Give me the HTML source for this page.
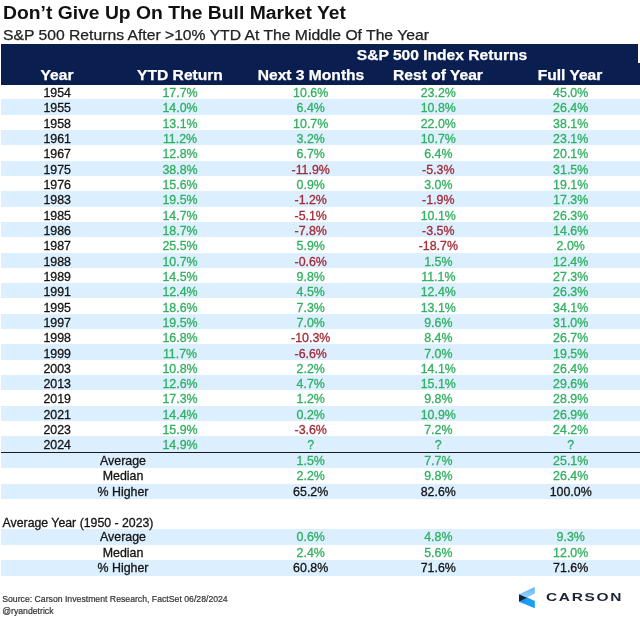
<!DOCTYPE html>
<html><head><meta charset="utf-8"><title>Don't Give Up On The Bull Market Yet</title>
<style>
html,body{margin:0;padding:0;background:#fff;}
body{width:640px;height:619px;position:relative;overflow:hidden;font-family:"Liberation Sans",Arial,sans-serif;color:#1a1a1a;}
.title{position:absolute;left:3px;top:3.4px;font-size:17.5px;font-weight:bold;line-height:20px;white-space:nowrap;color:#111;transform:scaleX(1.103);transform-origin:0 0;}
.sub{-webkit-text-stroke:0.25px #222;position:absolute;left:3px;top:25.7px;font-size:14px;line-height:18px;white-space:nowrap;color:#222;transform:scaleX(1.121);transform-origin:0 0;}
.h1{position:absolute;left:1px;top:44px;width:637px;height:20px;background:#0a1e50;}
.h2{position:absolute;left:1px;top:63px;width:639px;height:21.5px;background:#0a1e50;}
.ht{-webkit-text-stroke:0.25px #fff;position:absolute;width:200px;text-align:center;color:#fff;font-weight:bold;font-size:14.05px;line-height:18px;white-space:nowrap;transform:scaleX(1.11);}
.r{position:absolute;left:1px;width:639px;height:15.42px;font-size:12.4px;line-height:15.32px;}
.bg{position:absolute;left:1px;width:639px;background:#dbefff;}
.c{-webkit-text-stroke:0.3px currentColor;position:absolute;top:2.1px;width:120px;text-align:center;white-space:nowrap;margin-left:-1px;}
.s .c{top:1.2px;}
.k{color:#141414;}
.g{color:#30b060;}
.n{color:#a32a35;}
.line{position:absolute;left:1px;top:451.6px;width:639px;height:1.9px;background:#1a1a1a;}
.src{-webkit-text-stroke:0.2px #333;position:absolute;left:2.2px;font-size:8.7px;line-height:12px;color:#333;white-space:nowrap;}
.logo{position:absolute;left:514px;top:584px;}
.carson{position:absolute;left:546.1px;top:591.3px;font-size:10.3px;line-height:14px;letter-spacing:1.13px;color:#1b2438;white-space:nowrap;transform:scaleX(1.5);transform-origin:0 0;font-weight:bold;}
</style></head><body>
<div class="title">Don’t Give Up On The Bull Market Yet</div>
<div class="sub">S&amp;P 500 Returns After &gt;10% YTD At The Middle Of The Year</div>
<div class="h1"></div><div class="h2"></div>
<div class="ht" style="left:342px;top:46.4px;font-size:14.5px;transform:scaleX(1.075)">S&amp;P 500 Index Returns</div>
<div class="ht" style="left:-43px;top:65.8px">Year</div>
<div class="ht" style="left:80px;top:65.8px">YTD Return</div>
<div class="ht" style="left:210.7px;top:65.8px">Next 3 Months</div>
<div class="ht" style="left:338.2px;top:65.8px">Rest of Year</div>
<div class="ht" style="left:470.4px;top:65.8px">Full Year</div>
<div class="bg" style="top:99.32px;height:15.32px"></div>
<div class="bg" style="top:129.96px;height:15.32px"></div>
<div class="bg" style="top:160.60px;height:15.32px"></div>
<div class="bg" style="top:191.24px;height:15.32px"></div>
<div class="bg" style="top:221.88px;height:15.32px"></div>
<div class="bg" style="top:252.52px;height:15.32px"></div>
<div class="bg" style="top:283.16px;height:15.32px"></div>
<div class="bg" style="top:313.80px;height:15.32px"></div>
<div class="bg" style="top:344.44px;height:15.32px"></div>
<div class="bg" style="top:375.08px;height:15.32px"></div>
<div class="bg" style="top:405.72px;height:15.32px"></div>
<div class="bg" style="top:436.36px;height:15.32px"></div>
<div class="bg" style="top:453.20px;height:15.00px"></div>
<div class="bg" style="top:483.70px;height:15.50px"></div>
<div class="bg" style="top:529.30px;height:15.30px"></div>
<div class="bg" style="top:559.90px;height:15.90px"></div>
<div class="r" style="top:84.00px"><span class="c k" style="left:-2.799999999999997px">1954</span><span class="c g" style="left:120px">17.7%</span><span class="c g" style="left:250.7px">10.6%</span><span class="c g" style="left:378.3px">23.2%</span><span class="c g" style="left:510.70000000000005px">45.0%</span></div>
<div class="r b" style="top:99.32px"><span class="c k" style="left:-2.799999999999997px">1955</span><span class="c g" style="left:120px">14.0%</span><span class="c g" style="left:250.7px">6.4%</span><span class="c g" style="left:378.3px">10.8%</span><span class="c g" style="left:510.70000000000005px">26.4%</span></div>
<div class="r" style="top:114.64px"><span class="c k" style="left:-2.799999999999997px">1958</span><span class="c g" style="left:120px">13.1%</span><span class="c g" style="left:250.7px">10.7%</span><span class="c g" style="left:378.3px">22.0%</span><span class="c g" style="left:510.70000000000005px">38.1%</span></div>
<div class="r b" style="top:129.96px"><span class="c k" style="left:-2.799999999999997px">1961</span><span class="c g" style="left:120px">11.2%</span><span class="c g" style="left:250.7px">3.2%</span><span class="c g" style="left:378.3px">10.7%</span><span class="c g" style="left:510.70000000000005px">23.1%</span></div>
<div class="r" style="top:145.28px"><span class="c k" style="left:-2.799999999999997px">1967</span><span class="c g" style="left:120px">12.8%</span><span class="c g" style="left:250.7px">6.7%</span><span class="c g" style="left:378.3px">6.4%</span><span class="c g" style="left:510.70000000000005px">20.1%</span></div>
<div class="r b" style="top:160.60px"><span class="c k" style="left:-2.799999999999997px">1975</span><span class="c g" style="left:120px">38.8%</span><span class="c n" style="left:250.7px">-11.9%</span><span class="c n" style="left:378.3px">-5.3%</span><span class="c g" style="left:510.70000000000005px">31.5%</span></div>
<div class="r" style="top:175.92px"><span class="c k" style="left:-2.799999999999997px">1976</span><span class="c g" style="left:120px">15.6%</span><span class="c g" style="left:250.7px">0.9%</span><span class="c g" style="left:378.3px">3.0%</span><span class="c g" style="left:510.70000000000005px">19.1%</span></div>
<div class="r b" style="top:191.24px"><span class="c k" style="left:-2.799999999999997px">1983</span><span class="c g" style="left:120px">19.5%</span><span class="c n" style="left:250.7px">-1.2%</span><span class="c n" style="left:378.3px">-1.9%</span><span class="c g" style="left:510.70000000000005px">17.3%</span></div>
<div class="r" style="top:206.56px"><span class="c k" style="left:-2.799999999999997px">1985</span><span class="c g" style="left:120px">14.7%</span><span class="c n" style="left:250.7px">-5.1%</span><span class="c g" style="left:378.3px">10.1%</span><span class="c g" style="left:510.70000000000005px">26.3%</span></div>
<div class="r b" style="top:221.88px"><span class="c k" style="left:-2.799999999999997px">1986</span><span class="c g" style="left:120px">18.7%</span><span class="c n" style="left:250.7px">-7.8%</span><span class="c n" style="left:378.3px">-3.5%</span><span class="c g" style="left:510.70000000000005px">14.6%</span></div>
<div class="r" style="top:237.20px"><span class="c k" style="left:-2.799999999999997px">1987</span><span class="c g" style="left:120px">25.5%</span><span class="c g" style="left:250.7px">5.9%</span><span class="c n" style="left:378.3px">-18.7%</span><span class="c g" style="left:510.70000000000005px">2.0%</span></div>
<div class="r b" style="top:252.52px"><span class="c k" style="left:-2.799999999999997px">1988</span><span class="c g" style="left:120px">10.7%</span><span class="c n" style="left:250.7px">-0.6%</span><span class="c g" style="left:378.3px">1.5%</span><span class="c g" style="left:510.70000000000005px">12.4%</span></div>
<div class="r" style="top:267.84px"><span class="c k" style="left:-2.799999999999997px">1989</span><span class="c g" style="left:120px">14.5%</span><span class="c g" style="left:250.7px">9.8%</span><span class="c g" style="left:378.3px">11.1%</span><span class="c g" style="left:510.70000000000005px">27.3%</span></div>
<div class="r b" style="top:283.16px"><span class="c k" style="left:-2.799999999999997px">1991</span><span class="c g" style="left:120px">12.4%</span><span class="c g" style="left:250.7px">4.5%</span><span class="c g" style="left:378.3px">12.4%</span><span class="c g" style="left:510.70000000000005px">26.3%</span></div>
<div class="r" style="top:298.48px"><span class="c k" style="left:-2.799999999999997px">1995</span><span class="c g" style="left:120px">18.6%</span><span class="c g" style="left:250.7px">7.3%</span><span class="c g" style="left:378.3px">13.1%</span><span class="c g" style="left:510.70000000000005px">34.1%</span></div>
<div class="r b" style="top:313.80px"><span class="c k" style="left:-2.799999999999997px">1997</span><span class="c g" style="left:120px">19.5%</span><span class="c g" style="left:250.7px">7.0%</span><span class="c g" style="left:378.3px">9.6%</span><span class="c g" style="left:510.70000000000005px">31.0%</span></div>
<div class="r" style="top:329.12px"><span class="c k" style="left:-2.799999999999997px">1998</span><span class="c g" style="left:120px">16.8%</span><span class="c n" style="left:250.7px">-10.3%</span><span class="c g" style="left:378.3px">8.4%</span><span class="c g" style="left:510.70000000000005px">26.7%</span></div>
<div class="r b" style="top:344.44px"><span class="c k" style="left:-2.799999999999997px">1999</span><span class="c g" style="left:120px">11.7%</span><span class="c n" style="left:250.7px">-6.6%</span><span class="c g" style="left:378.3px">7.0%</span><span class="c g" style="left:510.70000000000005px">19.5%</span></div>
<div class="r" style="top:359.76px"><span class="c k" style="left:-2.799999999999997px">2003</span><span class="c g" style="left:120px">10.8%</span><span class="c g" style="left:250.7px">2.2%</span><span class="c g" style="left:378.3px">14.1%</span><span class="c g" style="left:510.70000000000005px">26.4%</span></div>
<div class="r b" style="top:375.08px"><span class="c k" style="left:-2.799999999999997px">2013</span><span class="c g" style="left:120px">12.6%</span><span class="c g" style="left:250.7px">4.7%</span><span class="c g" style="left:378.3px">15.1%</span><span class="c g" style="left:510.70000000000005px">29.6%</span></div>
<div class="r" style="top:390.40px"><span class="c k" style="left:-2.799999999999997px">2019</span><span class="c g" style="left:120px">17.3%</span><span class="c g" style="left:250.7px">1.2%</span><span class="c g" style="left:378.3px">9.8%</span><span class="c g" style="left:510.70000000000005px">28.9%</span></div>
<div class="r b" style="top:405.72px"><span class="c k" style="left:-2.799999999999997px">2021</span><span class="c g" style="left:120px">14.4%</span><span class="c g" style="left:250.7px">0.2%</span><span class="c g" style="left:378.3px">10.9%</span><span class="c g" style="left:510.70000000000005px">26.9%</span></div>
<div class="r" style="top:421.04px"><span class="c k" style="left:-2.799999999999997px">2023</span><span class="c g" style="left:120px">15.9%</span><span class="c n" style="left:250.7px">-3.6%</span><span class="c g" style="left:378.3px">7.2%</span><span class="c g" style="left:510.70000000000005px">24.2%</span></div>
<div class="r b" style="top:436.36px"><span class="c k" style="left:-2.799999999999997px">2024</span><span class="c g" style="left:120px">14.9%</span><span class="c g" style="left:250.7px">?</span><span class="c g" style="left:378.3px">?</span><span class="c g" style="left:510.70000000000005px">?</span></div>
<div class="r b s" style="top:453.20px"><span class="c k" style="left:63px">Average</span><span class="c g" style="left:250.7px">1.5%</span><span class="c g" style="left:378.3px">7.7%</span><span class="c g" style="left:510.70000000000005px">25.1%</span></div>
<div class="r s" style="top:468.20px"><span class="c k" style="left:63px">Median</span><span class="c g" style="left:250.7px">2.2%</span><span class="c g" style="left:378.3px">9.8%</span><span class="c g" style="left:510.70000000000005px">26.4%</span></div>
<div class="r b s" style="top:483.70px"><span class="c k" style="left:63px">% Higher</span><span class="c k" style="left:250.7px">65.2%</span><span class="c k" style="left:378.3px">82.6%</span><span class="c k" style="left:510.70000000000005px">100.0%</span></div>
<div class="r s" style="top:514.50px"><span class="c k" style="left:2.6px;width:auto;text-align:left;font-size:12.3px">Average Year (1950 - 2023)</span></div>
<div class="r b s" style="top:529.30px"><span class="c k" style="left:63px">Average</span><span class="c g" style="left:250.7px">0.6%</span><span class="c g" style="left:378.3px">4.8%</span><span class="c g" style="left:510.70000000000005px">9.3%</span></div>
<div class="r s" style="top:544.60px"><span class="c k" style="left:63px">Median</span><span class="c g" style="left:250.7px">2.4%</span><span class="c g" style="left:378.3px">5.6%</span><span class="c g" style="left:510.70000000000005px">12.0%</span></div>
<div class="r b s" style="top:559.90px"><span class="c k" style="left:63px">% Higher</span><span class="c k" style="left:250.7px">60.8%</span><span class="c k" style="left:378.3px">71.6%</span><span class="c k" style="left:510.70000000000005px">71.6%</span></div>
<div class="line"></div>
<div class="src" style="top:592.9px">Source: Carson Investment Research, FactSet 06/28/2024</div>
<div class="src" style="top:605.4px">@ryandetrick</div>
<svg class="logo" width="26" height="26" viewBox="514 584 26 26">
<defs><linearGradient id="lg1" x1="0" y1="0" x2="0" y2="1"><stop offset="0" stop-color="#62b4ef"/><stop offset="1" stop-color="#94d3ff"/></linearGradient>
<linearGradient id="lg2" x1="0" y1="0" x2="1" y2="0.6"><stop offset="0" stop-color="#1580d6"/><stop offset="0.55" stop-color="#1a9ef6"/><stop offset="1" stop-color="#1a9ef6"/></linearGradient></defs>
<polygon points="519.1,594.2 534.8,587.1 534.8,593.4 527.4,597.4" fill="url(#lg1)"/>
<polygon points="519,601.7 527.4,597.5 534.8,600.9 534.8,608.2" fill="url(#lg2)"/>
<polygon points="519,594.2 519,601.8 527.2,597.8" fill="#0b2244"/>
</svg>
<div class="carson">CARSON</div>
</body></html>
